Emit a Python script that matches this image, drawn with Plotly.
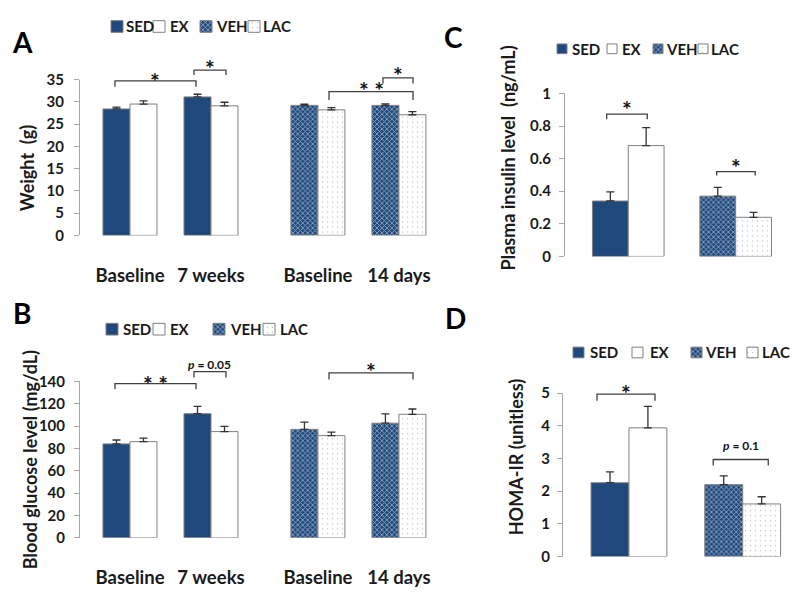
import plotly.graph_objects as go

# ---- data ----
GROUPS = ["SED", "EX", "VEH", "LAC"]
TIME_AB = ["Baseline", "7 weeks", "Baseline", "14 days"]

weight_sed = [28.4, 31.1]
weight_sed_err = [0.4, 0.6]
weight_ex = [29.5, 29.1]
weight_ex_err = [0.7, 0.8]
weight_veh = [29.2, 29.2]
weight_veh_err = [0.3, 0.35]
weight_lac = [28.2, 27.1]
weight_lac_err = [0.5, 0.7]

glucose_sed = [84, 111]
glucose_sed_err = [3.5, 6.5]
glucose_ex = [86, 95]
glucose_ex_err = [3.2, 4.6]
glucose_veh = [97, 102.5]
glucose_veh_err = [6.5, 8.4]
glucose_lac = [91.4, 110.5]
glucose_lac_err = [3.2, 4.7]

insulin_sed = [0.34]
insulin_sed_err = [0.056]
insulin_ex = [0.68]
insulin_ex_err = [0.11]
insulin_veh = [0.37]
insulin_veh_err = [0.054]
insulin_lac = [0.24]
insulin_lac_err = [0.03]

homa_sed = [2.26]
homa_sed_err = [0.33]
homa_ex = [3.94]
homa_ex_err = [0.66]
homa_veh = [2.2]
homa_veh_err = [0.27]
homa_lac = [1.61]
homa_lac_err = [0.22]

sig_a = ["*", "*", "* *", "*"]
sig_b = ["* *", "<i>p</i> = 0.05", "*"]
sig_c = ["*", "*"]
sig_d = ["*", "<i>p</i> = 0.1"]

# ---- styling / layout ----
FONT = "Lato"
BLUE = "#1F497D"
EDGE = "#7F7F7F"
AXIS = "#A6A6A6"
INK = "#1a1a1a"
W = 1 / 3
POS_AB = [0, 1, 2.32, 3.32]
POS_CD = [0, 1]

STYLE = {
    "SED": dict(color=BLUE, pattern=None),
    "EX": dict(color="white", pattern=None),
    "VEH": dict(color=BLUE, pattern=dict(shape="x", fgcolor="white", bgcolor=BLUE, size=3.5, solidity=0.45)),
    "LAC": dict(color="white", pattern=dict(shape=".", fgcolor="#8a8a8a", bgcolor="white", size=5, solidity=0.07)),
}

# pixel boxes of each plot area: (left, right), (top, bottom)
PANELS = {
    "A": dict(ax="", xdom=(80, 440), xr=(-0.617, 3.827), ydom=(71.7, 232.3), ymax=35, dtick=5, stand=7),
    "B": dict(ax="2", xdom=(80, 440), xr=(-0.617, 3.827), ydom=(382.7, 544), ymax=140, dtick=20, stand=6),
    "C": dict(ax="3", xdom=(565, 790), xr=(-0.589, 1.506), ydom=(86, 254), ymax=1, dtick=0.2, stand=5),
    "D": dict(ax="4", xdom=(563, 795), xr=(-0.580, 1.460), ydom=(395, 563.3), ymax=5, dtick=1, stand=4),
}


def px(x):
    return x / 800


def py(y):
    return 1 - y / 604


def to_paper(panel, x, y):
    p = PANELS[panel]
    fx = (x - p["xr"][0]) / (p["xr"][1] - p["xr"][0])
    fy = y / p["ymax"]
    x0, x1 = px(p["xdom"][0]), px(p["xdom"][1])
    y0, y1 = py(p["ydom"][1]), py(p["ydom"][0])
    return x0 + fx * (x1 - x0), y0 + fy * (y1 - y0)


fig = go.Figure()


def add_bars(panel, positions, vals, errs, group):
    st = STYLE[group]
    ax = PANELS[panel]["ax"]
    marker = dict(color=st["color"], line=dict(color=EDGE, width=1))
    if st["pattern"]:
        marker["pattern"] = st["pattern"]
    fig.add_trace(go.Bar(
        x=positions, y=vals, width=W,
        offset=-W if group in ("SED", "VEH") else 0,
        marker=marker,
        error_y=dict(type="data", array=errs, arrayminus=[0] * len(errs), symmetric=False,
                     color="#333333", thickness=1.3, width=4),
        xaxis="x" + ax, yaxis="y" + ax, showlegend=False, name=group,
    ))


add_bars("A", POS_AB[:2], weight_sed, weight_sed_err, "SED")
add_bars("A", POS_AB[:2], weight_ex, weight_ex_err, "EX")
add_bars("A", POS_AB[2:], weight_veh, weight_veh_err, "VEH")
add_bars("A", POS_AB[2:], weight_lac, weight_lac_err, "LAC")

add_bars("B", POS_AB[:2], glucose_sed, glucose_sed_err, "SED")
add_bars("B", POS_AB[:2], glucose_ex, glucose_ex_err, "EX")
add_bars("B", POS_AB[2:], glucose_veh, glucose_veh_err, "VEH")
add_bars("B", POS_AB[2:], glucose_lac, glucose_lac_err, "LAC")

add_bars("C", POS_CD[:1], insulin_sed, insulin_sed_err, "SED")
add_bars("C", POS_CD[:1], insulin_ex, insulin_ex_err, "EX")
add_bars("C", POS_CD[1:], insulin_veh, insulin_veh_err, "VEH")
add_bars("C", POS_CD[1:], insulin_lac, insulin_lac_err, "LAC")

add_bars("D", POS_CD[:1], homa_sed, homa_sed_err, "SED")
add_bars("D", POS_CD[:1], homa_ex, homa_ex_err, "EX")
add_bars("D", POS_CD[1:], homa_veh, homa_veh_err, "VEH")
add_bars("D", POS_CD[1:], homa_lac, homa_lac_err, "LAC")

layout = dict(
    width=800, height=604, margin=dict(l=0, r=0, t=0, b=0),
    paper_bgcolor="white", plot_bgcolor="rgba(0,0,0,0)",
    font=dict(family=FONT, color=INK), barmode="overlay",
)
for name, p in PANELS.items():
    ax = p["ax"]
    ab = name in ("A", "B")
    layout["xaxis" + ax] = dict(
        domain=[px(p["xdom"][0]), px(p["xdom"][1])], range=list(p["xr"]),
        showline=False, showgrid=False, zeroline=False, ticks="",
        tickmode="array", tickvals=POS_AB if ab else [], ticktext=TIME_AB if ab else [],
        showticklabels=ab, ticklabelstandoff=27,
        tickfont=dict(size=18.5, weight="bold", color=INK),
        anchor="y" + ax,
    )
    layout["yaxis" + ax] = dict(
        domain=[py(p["ydom"][1]), py(p["ydom"][0])], range=[0, p["ymax"]],
        tickmode="linear", tick0=0, dtick=p["dtick"],
        showline=True, linecolor=AXIS, linewidth=1,
        ticks="outside", ticklen=5, tickcolor=AXIS, tickwidth=1,
        showgrid=False, zeroline=False, ticklabelstandoff=p["stand"],
        tickfont=dict(size=15, weight="bold", color=INK),
        anchor="x" + ax,
    )
# overlay pixel axis for legend keys
layout["xaxis5"] = dict(domain=[0, 1], range=[0, 800], visible=False, anchor="y5")
layout["yaxis5"] = dict(domain=[0, 1], range=[604, 0], visible=False, anchor="x5")
fig.update_layout(**layout)

# ---- significance brackets: (x_left, x_right, y_top, y_leg, y_label) in data units ----
BRACKETS = {
    "A": [(-0.185, 0.815, 34.7, 33.4, 36.3), (0.79, 1.185, 37.1, 36.0, 39.1),
          (2.457, 3.494, 32.3, 30.4, 34.3), (3.123, 3.494, 35.4, 34.1, 37.5)],
    "B": [(-0.185, 0.815, 138, 132.8, 144.1), (0.79, 1.185, 148.7, 143.5, 155.4),
          (2.457, 3.494, 147.6, 141.5, 155.4)],
    "C": [(-0.201, 0.177, 0.873, 0.841, 0.946), (0.823, 1.182, 0.52, 0.496, 0.589)],
    "D": [(-0.281, 0.229, 4.97, 4.77, 5.21), (0.741, 1.225, 2.97, 2.79, 3.39)],
}
SIGS = {"A": sig_a, "B": sig_b, "C": sig_c, "D": sig_d}

annotations = []
shapes = []
for name, br in BRACKETS.items():
    for (xl, xr, yt, yl, ytxt), label in zip(br, SIGS[name]):
        x0, yb = to_paper(name, xl, yl)
        x1, ytop = to_paper(name, xr, yt)
        shapes.append(dict(type="path", xref="paper", yref="paper",
                           path=f"M{x0},{yb} L{x0},{ytop} L{x1},{ytop} L{x1},{yb}",
                           line=dict(color="#404040", width=1.3)))
        star = "*" in label
        xm, ym = to_paper(name, (xl + xr) / 2, ytxt)
        annotations.append(dict(x=xm, y=ym, xref="paper", yref="paper", text=label,
                                showarrow=False, xanchor="center", yanchor="middle",
                                yshift=-7 if star else 0,
                                font=dict(size=23 if star else 12, weight="bold", color="#111111")))

# ---- panel letters ----
for letter, (x, y) in {"A": (22, 33), "B": (22, 312), "C": (453, 28), "D": (455, 317)}.items():
    annotations.append(dict(x=px(x), y=py(y), xref="paper", yref="paper", text=letter,
                            showarrow=False, xanchor="center", yanchor="middle",
                            font=dict(size=28, weight="bold", color="black")))

# ---- y-axis titles ----
for text, (x, y) in {"Weight  (g)": (27, 163), "Blood glucose level (mg/dL)": (30, 464),
                     "Plasma insulin level  (ng/mL)": (508, 153), "HOMA-IR (unitless)": (516, 461)}.items():
    annotations.append(dict(x=px(x), y=py(y), xref="paper", yref="paper", text=text,
                            showarrow=False, textangle=-90, xanchor="center", yanchor="middle",
                            font=dict(size=18, weight="bold", color=INK)))

# ---- legends: square left edges, text left edges, y centre, key size ----
LEGENDS = [
    ([111, 153, 200, 248], [124, 168, 214, 261], 17, 12),
    ([106, 153, 213, 263], [121, 168, 228, 278], 329, 12),
    ([557, 607, 653, 698], [570, 620, 664, 709], 40, 10),
    ([573, 632, 691, 747], [588, 648, 703, 760], 353, 11),
]
for keys, texts, yc, s in LEGENDS:
    for g, kx, tx in zip(GROUPS, keys, texts):
        st = STYLE[g]
        fig.add_trace(go.Scatter(
            x=[kx, kx + s, kx + s, kx, kx], y=[yc - s / 2, yc - s / 2, yc + s / 2, yc + s / 2, yc - s / 2],
            xaxis="x5", yaxis="y5", mode="lines", fill="toself", fillcolor=st["color"],
            fillpattern=st["pattern"] if st["pattern"] else None,
            line=dict(color=EDGE, width=1), showlegend=False, hoverinfo="skip",
        ))
        annotations.append(dict(x=px(tx), y=py(yc), xref="paper", yref="paper", text=g,
                                showarrow=False, xanchor="left", yanchor="middle",
                                font=dict(size=15, weight="bold", color=INK)))

fig.update_layout(annotations=annotations, shapes=shapes)
fig.write_html("out.html", config={"displayModeBar": False},
               post_script="document.body.style.margin='0';document.body.style.overflow='hidden';")
